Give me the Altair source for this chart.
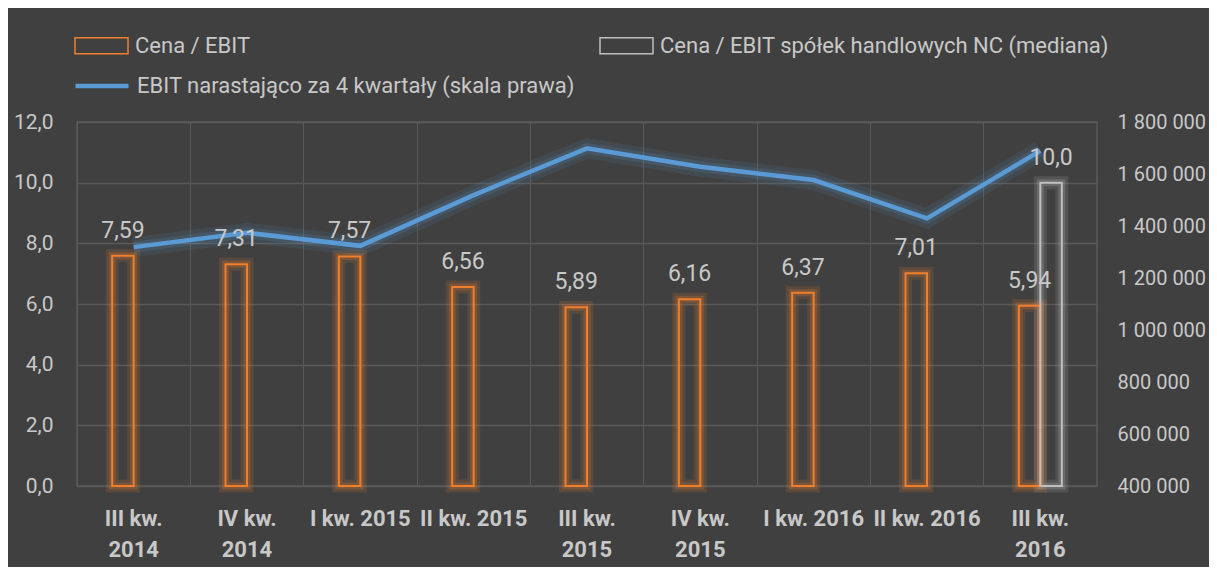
import altair as alt
import pandas as pd

categories = ["III kw. 2014", "IV kw. 2014", "I kw. 2015", "II kw. 2015", "III kw. 2015",
              "IV kw. 2015", "I kw. 2016", "II kw. 2016", "III kw. 2016"]
cena_ebit = [7.59, 7.31, 7.57, 6.56, 5.89, 6.16, 6.37, 7.01, 5.94]
mediana_cat = ["III kw. 2016"]
mediana_val = [10.0]
ebit_4q = [1318700, 1373800, 1323700, 1518900, 1698700, 1627900, 1576700, 1429200, 1689500]

S_BAR = "Cena / EBIT"
S_MED = "Cena / EBIT spółek handlowych NC (mediana)"
S_LINE = "EBIT narastająco za 4 kwartały (skala prawa)"
series_bars = [S_BAR, S_MED]

ORANGE = "#F07F2C"
GRAY = "#BFBFBF"
BLUE = "#5B9BD5"
BG = "#404040"
GRID = "#595959"
TXT = "#C8C8C8"
FONT = "Roboto"

bars_df = pd.DataFrame(
    [{"kw": c, "series": S_BAR, "value": v, "label": f"{v:.2f}".replace(".", ",")}
     for c, v in zip(categories, cena_ebit)]
    + [{"kw": c, "series": S_MED, "value": v, "label": f"{v:.1f}".replace(".", ",")}
       for c, v in zip(mediana_cat, mediana_val)]
)
line_df = pd.DataFrame({"kw": categories, "ebit": ebit_4q, "series": S_LINE})

x_enc = alt.X("kw:N", sort=categories, title=None,
              scale=alt.Scale(paddingInner=0, paddingOuter=0),
              axis=alt.Axis(labelExpr="(indexof(datum.label, 'III') == 0 || indexof(datum.label, 'IV') == 0) ? [slice(datum.label, 0, -5), slice(datum.label, -4)] : datum.label",
                            labelAngle=0, labelFontWeight="bold", labelFontSize=22,
                            labelColor=TXT, labelPadding=22, labelLineHeight=31,
                            labelBaseline="top",
                            ticks=False, domain=False, grid=True, gridColor=GRID,
                            bandPosition=0))
xoff_domain = ["_pad_a", S_BAR, S_MED, "_pad_b"]
xoff_enc = alt.XOffset("series:N", scale=alt.Scale(domain=xoff_domain, paddingInner=0, paddingOuter=0.636))
y_left_scale = alt.Scale(domain=[0, 12], nice=False, zero=True)
stroke_scale = alt.Scale(domain=series_bars, range=[ORANGE, GRAY])

bar_glow = alt.Chart(bars_df).mark_bar(fill="transparent", strokeWidth=13, strokeOpacity=0.15).encode(
    x=x_enc, xOffset=xoff_enc,
    y=alt.Y("value:Q", scale=y_left_scale, axis=None),
    stroke=alt.Stroke("series:N", scale=stroke_scale, legend=None),
)
bar_glow2 = alt.Chart(bars_df).mark_bar(fill="transparent", strokeWidth=7, strokeOpacity=0.22).encode(
    x=x_enc, xOffset=xoff_enc,
    y=alt.Y("value:Q", scale=y_left_scale, axis=None),
    stroke=alt.Stroke("series:N", scale=stroke_scale, legend=None),
)
bars = alt.Chart(bars_df).mark_bar(fill="transparent", strokeWidth=2).encode(
    x=x_enc, xOffset=xoff_enc,
    y=alt.Y("value:Q", scale=y_left_scale, title=None,
            axis=alt.Axis(values=[0, 2, 4, 6, 8, 10, 12], format=".1f", labelFontSize=21,
                          labelColor=TXT, labelPadding=24, ticks=False, domain=False,
                          grid=True, gridColor=GRID, gridWidth=1.5)),
    stroke=alt.Stroke("series:N", scale=stroke_scale,
                      legend=alt.Legend(title=None, orient="none", legendX=-3, legendY=-104,
                                        direction="horizontal", columns=2, columnPadding=346,
                                        symbolType="M-1,-0.3H1V0.3H-1Z", symbolSize=2809,
                                        symbolStrokeWidth=1.5, symbolFillColor="transparent",
                                        labelFontSize=22, labelColor=TXT, labelOffset=6,
                                        labelLimit=800, padding=0)),
)

line_y_scale = alt.Scale(domain=[400000, 1800000], nice=False, zero=False)
line_glow = alt.Chart(line_df).mark_line(strokeWidth=20, strokeOpacity=0.1, color=BLUE).encode(
    x=alt.X("kw:N", sort=categories), y=alt.Y("ebit:Q", scale=line_y_scale, axis=None))
line_glow2 = alt.Chart(line_df).mark_line(strokeWidth=11, strokeOpacity=0.17, color=BLUE).encode(
    x=alt.X("kw:N", sort=categories), y=alt.Y("ebit:Q", scale=line_y_scale, axis=None))
line = alt.Chart(line_df).mark_line(strokeWidth=4.5).encode(
    x=alt.X("kw:N", sort=categories),
    y=alt.Y("ebit:Q", scale=line_y_scale, title=None,
            axis=alt.Axis(orient="right", values=list(range(400000, 1800001, 200000)), format=",.0f",
                          labelFontSize=20, labelColor=TXT, labelPadding=20, ticks=False,
                          domain=False, grid=False)),
    stroke=alt.Stroke("series:N", scale=alt.Scale(domain=[S_LINE], range=[BLUE]),
                      legend=alt.Legend(title=None, orient="none", legendX=-4, legendY=-65,
                                        symbolType="stroke", symbolSize=2809, symbolStrokeWidth=4.5,
                                        labelFontSize=22, labelColor=TXT, labelOffset=6,
                                        labelLimit=800, padding=0)),
)

labels = alt.Chart(bars_df).mark_text(fontSize=23, color=TXT, baseline="alphabetic", dy=-18).encode(
    x=alt.X("kw:N", sort=categories), xOffset=xoff_enc,
    y=alt.Y("value:Q", scale=y_left_scale, axis=None),
    text="label:N",
)

chart = alt.layer(bar_glow, bar_glow2, bars, line_glow, line_glow2, line, labels).resolve_scale(
    y="independent", stroke="independent"
).resolve_legend(stroke="independent").properties(
    width=1020, height=364,
    autosize=alt.AutoSizeParams(type="none"),
    padding={"left": 69, "top": 114, "right": 112, "bottom": 81},
    background=BG,
).configure(
    font=FONT,
    locale={"number": {"decimal": ",", "thousands": "\u00a0", "grouping": [3], "currency": ["", " zł"]}},
).configure_view(stroke=GRID, strokeWidth=1.5)

chart.save("out.html", embed_options={"renderer": "svg", "actions": False})
